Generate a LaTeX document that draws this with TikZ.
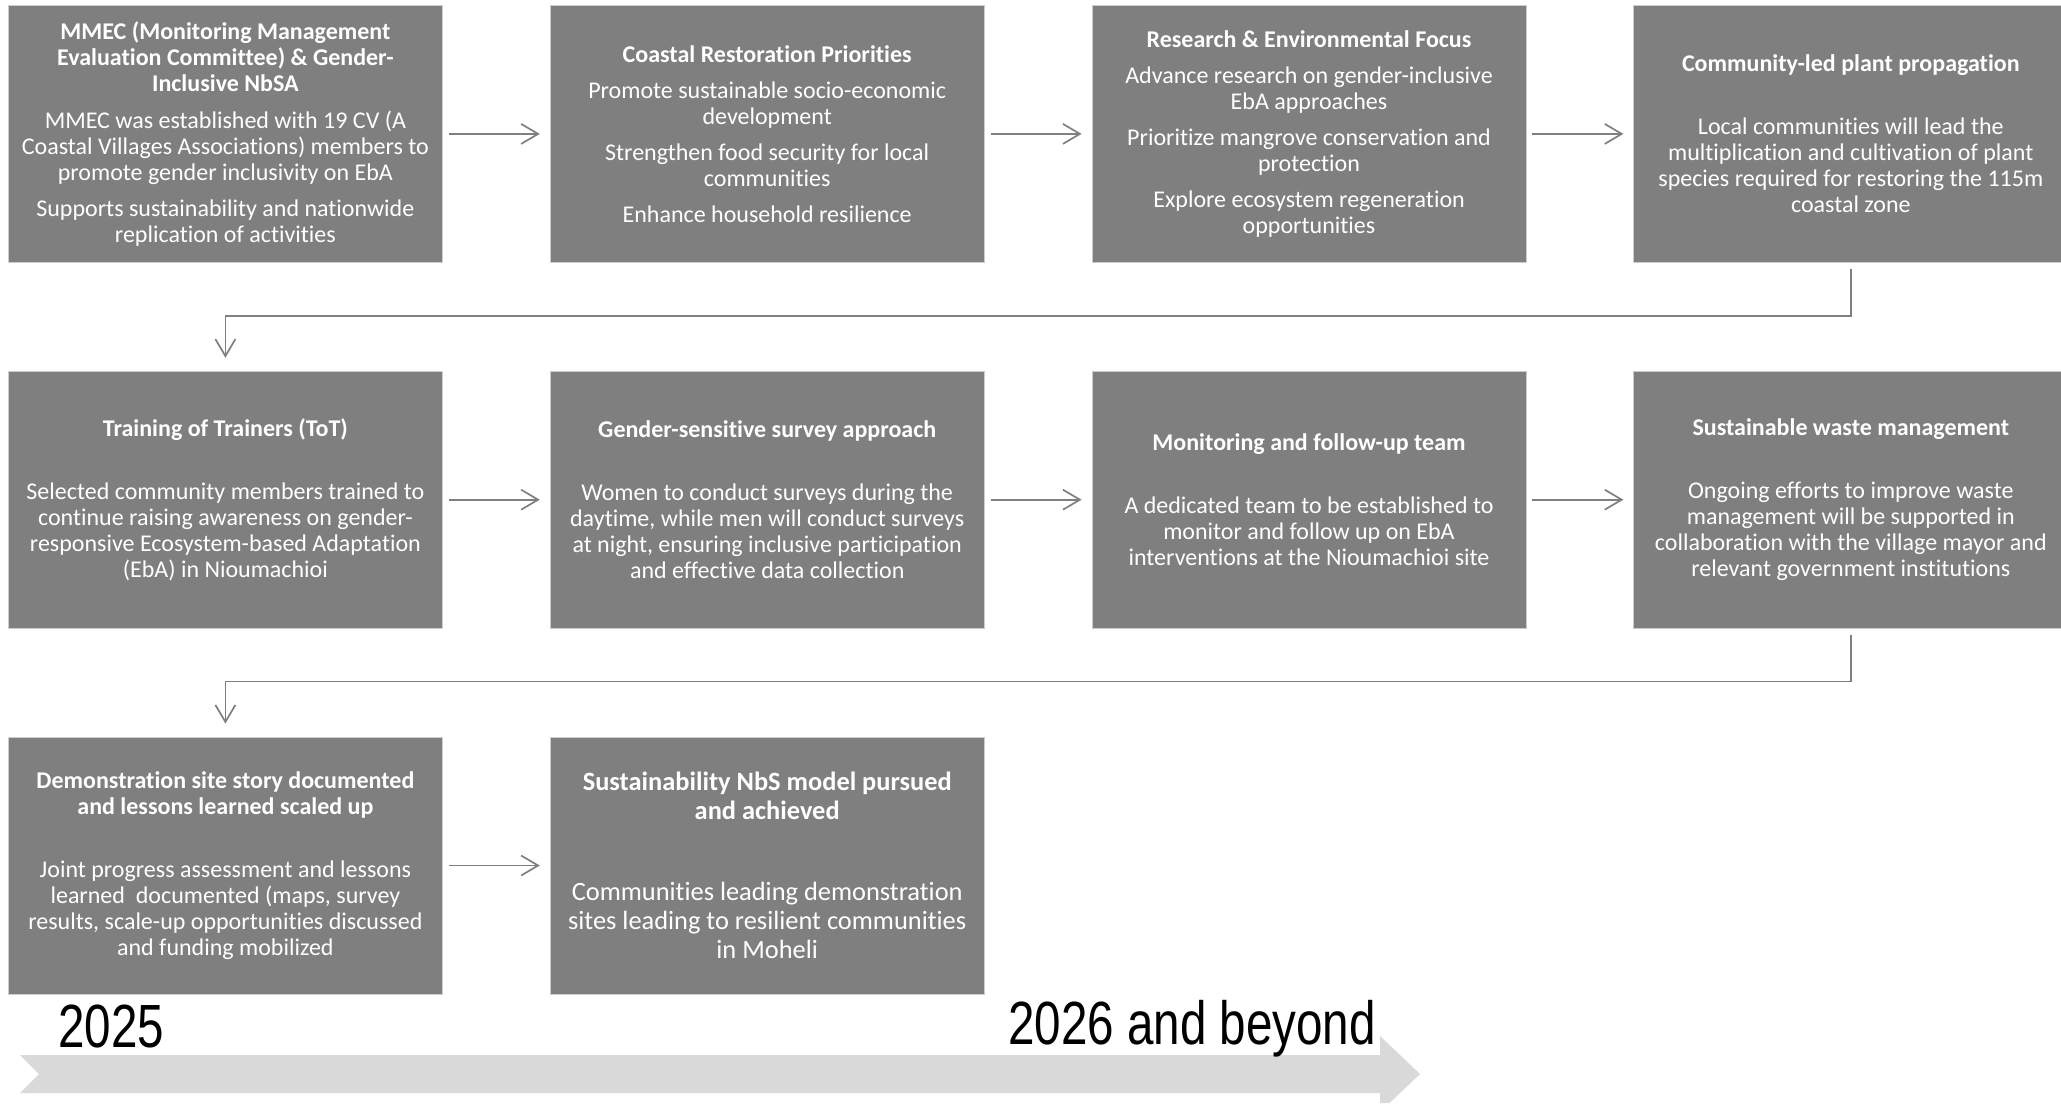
\documentclass[tikz,border=0pt]{standalone}
\usepackage{fontspec}
\setmainfont{Carlito}[Ligatures=NoCommon]
\newfontfamily\yearfont[FakeStretch=0.78]{Liberation Sans}
\usetikzlibrary{positioning,arrows.meta}
\definecolor{boxgray}{RGB}{127,127,127}
\definecolor{boxedge}{RGB}{205,205,205}
\definecolor{linegray}{RGB}{127,127,127}
\definecolor{tlgray}{RGB}{217,217,217}
\tikzset{
  stage/.style={rectangle, fill=boxgray, draw=boxedge, line width=0.8pt, text=white,
    minimum width=434pt, minimum height=257pt, inner sep=0pt, align=center,
    font=\fontsize{24}{26}\selectfont, anchor=north west},
  flow/.style={draw=linegray, line width=1.7pt,
    -{Straight Barb[length=17pt,width=20pt,line width=1.7pt]}},
  year/.style={anchor=base west, inner sep=0pt, font=\yearfont\fontsize{61}{61}\selectfont}
}
\begin{document}
\begin{tikzpicture}[x=1pt,y=-1pt]
	\useasboundingbox (0,0) rectangle (2061,1103);
	% row 1
	\node[stage] (b1) at (8,5) {\textbf{MMEC (Monitoring Management}\\\textbf{Evaluation Committee) \& Gender-}\\\textbf{Inclusive NbSA}\\[11pt]
		MMEC was established with 19 CV (A\\Coastal Villages Associations) members to\\promote gender inclusivity on EbA\\[10pt]
		Supports sustainability and nationwide\\replication of activities};
	\node[stage, right=107pt of b1] (b2) {\textbf{Coastal Restoration Priorities}\\[10pt]
		Promote sustainable socio-economic\\development\\[10pt]
		Strengthen food security for local\\communities\\[10pt]
		Enhance household resilience};
	\node[stage, right=107pt of b2] (b3) {\textbf{Research \& Environmental Focus}\\[10pt]
		Advance research on gender-inclusive\\EbA approaches\\[10pt]
		Prioritize mangrove conservation and\\protection\\[10pt]
		Explore ecosystem regeneration\\opportunities};
	\node[stage, right=107pt of b3] (b4) {\textbf{Community-led plant propagation}\\[37pt]
		Local communities will lead the\\multiplication and cultivation of plant\\species required for restoring the 115m\\coastal zone};
	% row 2
	\node[stage, below=108pt of b1] (b5) {\textbf{Training of Trainers (ToT)}\\[37pt]
		Selected community members trained to\\continue raising awareness on gender-\\responsive Ecosystem-based Adaptation\\(EbA) in Nioumachioi};
	\node[stage, right=107pt of b5] (b6) {\textbf{Gender-sensitive survey approach}\\[37pt]
		Women to conduct surveys during the\\daytime, while men will conduct surveys\\at night, ensuring inclusive participation\\and effective data collection};
	\node[stage, right=107pt of b6] (b7) {\textbf{Monitoring and follow-up team}\\[37pt]
		A dedicated team to be established to\\monitor and follow up on EbA\\interventions at the Nioumachioi site};
	\node[stage, right=107pt of b7] (b8) {\textbf{Sustainable waste management}\\[37pt]
		Ongoing efforts to improve waste\\management will be supported in\\collaboration with the village mayor and\\relevant government institutions};
	% row 3
	\node[stage, below=108pt of b5] (b9) {\textbf{Demonstration site story documented}\\\textbf{and lessons learned scaled up}\\[37pt]
		Joint progress assessment and lessons\\learned\ \ documented (maps, survey\\results, scale-up opportunities discussed\\and funding mobilized};
	\node[stage, right=107pt of b9, font=\fontsize{26.4}{29}\selectfont] (b10) {\textbf{Sustainability NbS model pursued}\\\textbf{and achieved}\\[52pt]
		Communities leading demonstration\\sites leading to resilient communities\\in Moheli};
	% connectors
	\draw[flow] ([xshift=6pt]b1.east) -- ([xshift=-10pt]b2.west);
	\draw[flow] ([xshift=6pt]b2.east) -- ([xshift=-10pt]b3.west);
	\draw[flow] ([xshift=6pt]b3.east) -- ([xshift=-10pt]b4.west);
	\draw[flow] ([yshift=-6pt]b4.south) -- ++(0,47) -| ([yshift=13pt]b5.north);
	\draw[flow] ([xshift=6pt]b5.east) -- ([xshift=-10pt]b6.west);
	\draw[flow] ([xshift=6pt]b6.east) -- ([xshift=-10pt]b7.west);
	\draw[flow] ([xshift=6pt]b7.east) -- ([xshift=-10pt]b8.west);
	\draw[flow] ([yshift=-6pt]b8.south) -- ++(0,47) -| ([yshift=13pt]b9.north);
	\draw[flow] ([xshift=6pt]b9.east) -- ([xshift=-10pt]b10.west);
	% timeline
	\fill[tlgray] (20,1055) -- (1380,1055) -- (1380,1036) -- (1420,1074) -- (1389.5,1103)
		-- (1380,1103) -- (1380,1093) -- (20,1093) -- (39,1074) -- cycle;
	\node[year] (y1) at (58,1047) {2025};
	\node[year] (y2) at (1008,1044) {2026 and beyond};
\end{tikzpicture}
\end{document}
